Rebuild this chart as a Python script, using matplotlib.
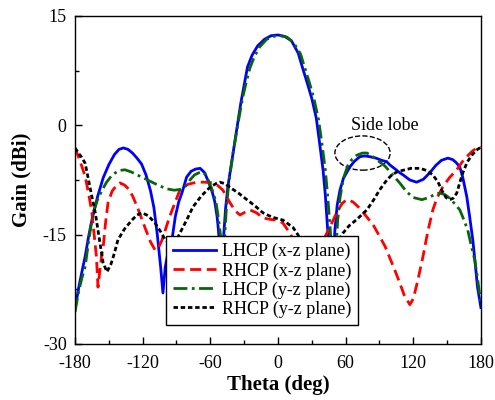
import matplotlib
matplotlib.use("Agg")
import matplotlib.pyplot as plt
from matplotlib.patches import Ellipse
from matplotlib.ticker import MultipleLocator

plt.rcParams['font.family'] = ['Liberation Serif', 'DejaVu Serif']
plt.rcParams['axes.unicode_minus'] = False

# LHCP (x-z plane)
th_lx = [-180, -177, -174, -171, -168, -165, -160, -155, -150, -145, -141, -137, -133, -129, -125,
         -121, -117, -113, -110, -107, -104, -102, -100, -97, -94, -91, -88, -85, -81, -77, -73,
         -69, -65, -61, -58, -56, -54, -53, -51.5, -50, -48.5, -46.5, -44.5, -42.5, -40, -38, -36,
         -33, -30, -27, -23, -18, -12, -6, 0, 6, 12, 18, 22, 26, 30, 34, 37, 40, 42, 44.3, 46, 47.5,
         49, 50.5, 52.5, 55, 58, 63.8, 68, 72.7, 77, 81.5, 87, 92, 96.6, 99, 104, 108, 111, 117,
         123, 129, 134.7, 140, 145, 150.7, 155, 158, 161.3, 164, 167.5, 170, 172.8, 175, 177, 180]
g_lx = [-25.3, -22.5, -20.2, -18, -15.3, -13, -9.8, -7.2, -5.4, -4.0, -3.3, -3.1, -3.3, -3.8, -4.5,
        -5.3, -6.8, -9.0, -11.3, -15, -19.5, -23, -19.5, -17, -15.7, -12.5, -10.5, -9.2, -7.1, -6.3, -6.0,
        -5.9, -6.5, -8.0, -9.3, -10.5, -12.5, -14, -17, -21, -16, -11.5, -8.5, -6.5, -4.0, -2, 0,
        3, 5.5, 8, 9.6, 10.9, 11.8, 12.3, 12.4, 12.2, 11.6, 9.9, 7.8, 5.8, 3.7, 1.0, -2.5, -6.1, -9.5, -14.8, -19, -22,
        -18.5, -14.4, -11, -8.9, -7.3, -5.7, -4.9, -4.3, -4.2, -4.3, -4.5, -4.8, -5.0, -5.4, -6.0, -6.5, -6.8, -7.5,
        -7.8, -7.4, -6.5, -5.5, -4.8, -4.5, -4.7, -5.1, -5.7, -7.2, -9.8, -12.5, -15.7, -19, -22.2, -25]

# RHCP (x-z plane)
th_rx = [-180, -177, -174, -171, -168, -165, -163, -161, -159.6, -158, -156.5, -155, -153, -150.7, -147,
         -143, -140, -136, -132, -128.6, -124, -118, -113, -109, -106, -103, -100, -96, -91.3, -87, -80,
         -72, -65, -57.6, -53, -48.8, -45.5, -42.6, -38, -33.7, -29, -24.9, -19, -13.3, -7, -1, 4.4,
         10.6, 15, 20, 28, 35, 40, 46, 52, 57, 61, 66.5, 72, 79, 85, 90.4, 95, 99, 104, 108, 112, 117,
         120, 124, 128.5, 133, 137.4, 141, 146, 152, 158.6, 163, 167.5, 172, 177, 180]
g_rx = [-3.1, -4.3, -5.6, -7, -9.3, -12, -15, -18, -22.2, -20, -18, -16.7, -13.5, -10.6, -9.0,
        -8.2, -7.9, -8.2, -8.8, -9.8, -11.5, -14, -16, -17.1, -16.8, -15.8, -14.4, -12.5, -10.6, -8.9, -8.1,
        -7.8, -7.8, -7.9, -8.3, -8.9, -9.8, -10.6, -11.7, -12.3, -11.9, -11.6, -12.0, -12.7, -12.9, -13, -13.4,
        -14.8, -16, -17, -17.8, -17.0, -15.8, -14, -12, -10.7, -10.2, -10.5, -11.3, -12.6, -13.8, -15.3, -16.6, -18.1, -20, -21.6, -23.3, -24.6,
        -23.8, -21.3, -18.1, -14.5, -11.6, -10, -8.5, -7.2, -6.1, -5.1, -4.3, -3.6, -3.0, -3]

# LHCP (y-z plane)
th_ly = [-180, -177, -174, -171, -168, -164, -160, -156, -152, -147, -141, -135.7, -130, -125, -120.6,
         -113, -106.4, -99, -92, -87, -82.5, -78, -74, -70, -67, -64, -61, -58, -55, -53, -51, -49,
         -47.5, -46, -44, -42, -40, -37, -34, -31, -28, -25, -21, -16, -10, -4, 2, 8, 14, 20, 24, 28,
         32, 36, 39, 42, 44, 46, 48, 50, 51.5, 53, 55, 58, 62, 66, 70, 75, 79, 84, 90, 95, 99, 104,
         108, 114, 120, 127.6, 134, 140, 143.6, 148, 152.4, 157, 161.3, 165, 168.4, 171, 174.6, 177, 180]
g_ly = [-25.6, -23, -21, -19.4, -16, -12, -10.2, -8.9, -7.8, -6.8, -6.2, -6.1, -6.4, -6.8, -7.1,
        -7.7, -8.2, -8.7, -8.9, -8.8, -8.4, -7.5, -6.8, -6.5, -6.4, -6.8, -7.8, -9.0, -10.5, -12.5, -15, -19,
        -16, -12, -8.5, -6.2, -4.0, -1.2, 1.5, 4, 6, 7.8, 9.4, 10.8, 11.8, 12.2, 12.3, 12.1, 11.3, 9.8, 7.8, 5.8,
        3.6, 0.8, -2.5, -6.1, -9.5, -13.5, -18, -21, -17, -13, -10, -7.3, -5.5, -4.6, -4.1, -3.8, -3.8, -4.3, -5.0, -5.6, -6.3, -7.2,
        -7.9, -9.1, -9.9, -10.2, -9.9, -9.4, -9.3, -9.5, -10.0, -10.8, -11.6, -13, -14.4, -16.2, -18.5, -21, -24.5]

# RHCP (y-z plane)
th_ry = [-180, -177, -174, -171, -168, -165, -162, -158.5, -155, -151.6, -148, -145, -141.9, -136, -129.5,
         -125, -120.6, -115, -109, -104, -100, -95, -90, -87, -81, -75.4, -68, -60.3, -55, -51.5, -47,
         -42.6, -35, -27.5, -20, -13.3, -5, 4.4, 13.3, 17.7, 22, 30, 40, 48, 53, 57.6, 63, 70, 78.9,
         85, 90, 96.6, 101, 105.5, 110, 118, 126, 132, 137.4, 142, 146, 149, 152.4, 155.5, 158.6, 161,
         164, 168, 172, 176, 180]
g_ry = [-3.1, -3.8, -4.4, -5.2, -7.5, -9.8, -12, -15.5, -18.9, -20.1, -19, -17.5, -15.7, -14.2, -13,
        -12.3, -12, -12.4, -13.4, -14.6, -15.7, -16.3, -15.8, -14.8, -13, -11.2, -9.7, -8.5, -8.0, -7.8, -8.0,
        -8.5, -9.3, -10.2, -11.1, -12.0, -12.6, -13, -14, -15, -16.5, -18.5, -19, -17.5, -16, -14.8, -13.8, -12.9, -11.6,
        -10.2, -8.9, -7.5, -6.8, -6.4, -6.2, -5.9, -5.9, -6.2, -6.8, -7.8, -9.1, -9.9, -10.2, -10.0, -9.3, -8.0,
        -6.5, -5.0, -4.1, -3.4, -3]

fig = plt.figure(figsize=(4.95, 4.0), dpi=100)
ax = fig.add_axes([0.1515, 0.14, 0.82, 0.82])

ax.plot(th_lx, g_lx, color='#0000ff', lw=2, label='LHCP (x-z plane)')
ax.plot(th_rx, g_rx, color='#ff0000', lw=2, dashes=(4, 2), label='RHCP (x-z plane)')
ax.plot(th_ly, g_ly, color='#0a650a', lw=2, dashes=(5, 1.6, 1, 1.6), label='LHCP (y-z plane)')
ax.plot(th_ry, g_ry, color='black', lw=2, dashes=(1.6, 1.0), label='RHCP (y-z plane)')

# side lobe marker
ax.add_patch(Ellipse((75, -3.8), 49, 4.7, fill=False, ls='--', lw=1, ec='black'))
ax.text(95, 0, 'Side lobe', fontsize=13, ha='center', va='center')

ax.set_xlim(-180, 180)
ax.set_ylim(-30, 15)
ax.xaxis.set_major_locator(MultipleLocator(60))
ax.xaxis.set_minor_locator(MultipleLocator(30))
ax.yaxis.set_major_locator(MultipleLocator(15))
ax.yaxis.set_minor_locator(MultipleLocator(7.5))
ax.tick_params(which='both', direction='in', top=False, right=False, labelsize=13, width=1)
ax.tick_params(which='major', length=5)
ax.tick_params(axis='x', which='major', pad=8)
ax.tick_params(axis='y', which='major', pad=6)
ax.tick_params(which='minor', length=3)
for s in ax.spines.values():
    s.set_linewidth(1)

ax.set_xlabel('Theta (deg)', fontsize=15, fontweight='bold', labelpad=2)
ax.set_ylabel('Gain (dBi)', fontsize=15, fontweight='bold', labelpad=8)

leg = ax.legend(loc='lower left', bbox_to_anchor=(0.224, 0.058), fontsize=13, frameon=True,
                fancybox=False, framealpha=1, edgecolor='black', handlelength=2.4,
                handletextpad=0.3, labelspacing=0.1, borderpad=0.4, borderaxespad=0)
leg.get_frame().set_linewidth(1)

fig.savefig('out.png', dpi=100)
